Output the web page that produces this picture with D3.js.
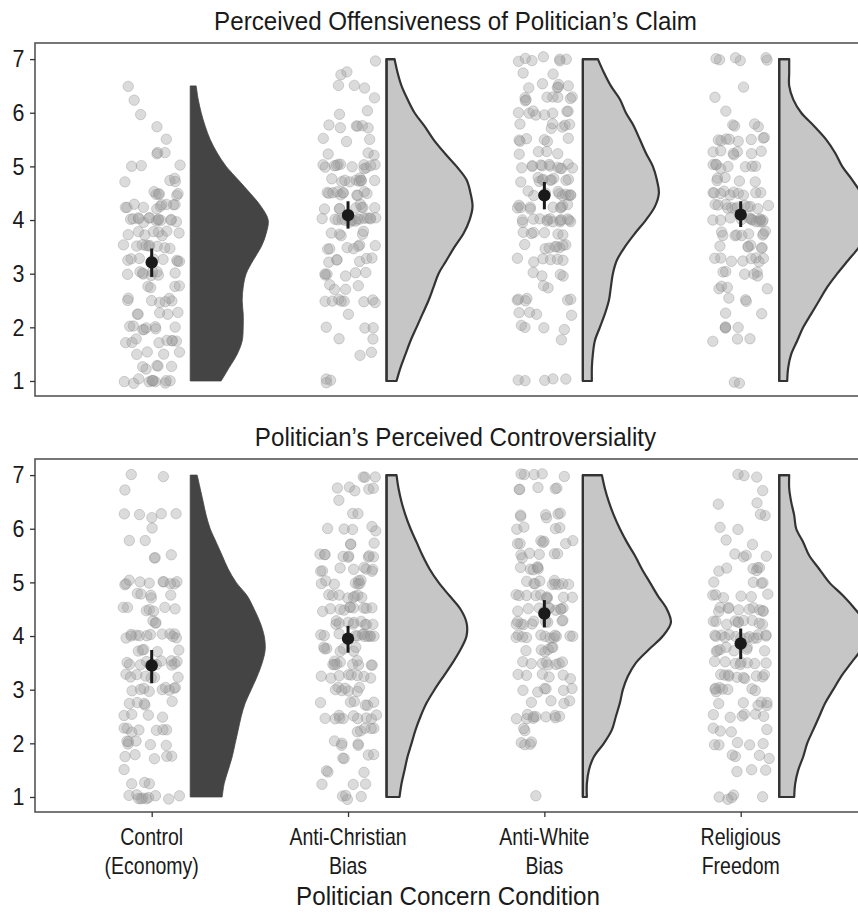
<!DOCTYPE html>
<html><head><meta charset="utf-8">
<script src="https://cdn.jsdelivr.net/npm/d3@7/dist/d3.min.js"></script>
<style>body{margin:0;background:#fff}svg{display:block}</style>
</head><body><svg id="c" width="858" height="912"></svg>
<script>
// ---------- DATA ----------
const categories = ["Control (Economy)", "Anti-Christian Bias", "Anti-White Bias", "Religious Freedom"];
const categoryLines = [["Control","(Economy)"],["Anti-Christian","Bias"],["Anti-White","Bias"],["Religious","Freedom"]];
const panelTitles = ["Perceived Offensiveness of Politician\u2019s Claim", "Politician\u2019s Perceived Controversiality"];
const xAxisTitle = "Politician Concern Condition";
const yTicks = [1,2,3,4,5,6,7];
const levels = [1,1.25,1.5,1.75,2,2.25,2.5,2.75,3,3.25,3.5,3.75,4,4.25,4.5,4.75,5,5.25,5.5,5.75,6,6.25,6.5,6.75,7];

// response counts at each scale level (1 -> 7), panel 1 (offensiveness)
const offCounts = [
  [11,5,4,8,8,5,7,4,9,8,9,8,14,10,6,4,3,3,1,1,1,1,1,0,0],
  [3,0,2,2,3,1,8,4,6,6,7,5,16,8,11,10,12,3,3,6,2,1,3,2,1],
  [5,0,0,1,4,4,6,2,4,6,8,6,14,10,10,10,12,4,6,6,8,8,6,2,7],
  [2,0,0,3,4,2,3,4,6,8,6,9,14,12,10,5,8,7,8,4,1,1,1,0,6]
];
// panel 2 (controversiality)
const conCounts = [
  [10,3,1,5,6,7,4,5,9,7,12,5,12,3,7,5,10,0,3,2,1,5,0,1,2],
  [4,3,3,4,5,5,10,6,7,8,10,7,12,10,10,8,8,8,9,3,5,2,1,5,3],
  [1,0,0,0,4,2,10,4,6,6,8,6,12,10,10,10,10,6,6,7,4,6,0,5,5],
  [5,0,3,4,5,4,6,6,8,10,8,8,14,10,10,6,4,6,4,2,2,2,2,1,3]
];
// group means and 95% CI
const offMean = [3.21,4.09,4.46,4.10], offLo = [2.94,3.84,4.20,3.87], offHi = [3.47,4.35,4.71,4.35];
const conMean = [3.45,3.95,4.42,3.86], conLo = [3.12,3.69,4.16,3.57], conHi = [3.74,4.19,4.67,4.14];

// kernel density estimates (relative), evaluated at the levels above
const offDensity = [
  [0.31,0.39,0.47,0.52,0.53,0.53,0.52,0.53,0.56,0.63,0.71,0.76,0.78,0.71,0.60,0.48,0.36,0.27,0.20,0.15,0.11,0.08,0.06],
  [0.10,0.14,0.19,0.24,0.30,0.36,0.42,0.47,0.52,0.60,0.68,0.77,0.83,0.86,0.84,0.80,0.70,0.58,0.47,0.38,0.28,0.21,0.15,0.11,0.08],
  [0.09,0.09,0.10,0.12,0.17,0.22,0.26,0.28,0.30,0.34,0.42,0.52,0.63,0.72,0.76,0.74,0.70,0.63,0.57,0.51,0.43,0.37,0.28,0.21,0.15],
  [0.08,0.09,0.12,0.18,0.24,0.32,0.40,0.48,0.58,0.69,0.80,0.88,0.92,0.90,0.82,0.73,0.63,0.56,0.47,0.35,0.22,0.14,0.10,0.10,0.10]
];
const conDensity = [
  [0.32,0.34,0.38,0.42,0.45,0.48,0.51,0.55,0.61,0.67,0.72,0.75,0.74,0.70,0.64,0.57,0.46,0.38,0.32,0.26,0.20,0.16,0.13,0.10,0.07],
  [0.13,0.15,0.18,0.21,0.25,0.29,0.34,0.40,0.48,0.57,0.66,0.74,0.80,0.80,0.74,0.63,0.52,0.43,0.36,0.30,0.24,0.19,0.15,0.12,0.10],
  [0.04,0.04,0.06,0.11,0.21,0.29,0.33,0.37,0.40,0.45,0.53,0.66,0.80,0.88,0.84,0.75,0.67,0.59,0.52,0.44,0.37,0.31,0.26,0.22,0.19],
  [0.15,0.16,0.19,0.24,0.28,0.34,0.40,0.46,0.54,0.62,0.72,0.82,0.88,0.86,0.76,0.64,0.50,0.40,0.30,0.24,0.17,0.15,0.12,0.10,0.10]
];
const violinFill = ["#444444","#c6c6c6","#c6c6c6","#c6c6c6"];

// ---------- LAYOUT ----------
const svg = d3.select("#c");
const font = "'Liberation Sans',Arial,sans-serif";
const ink = "#1a1a1a";
const frameLeft = 35, frameRight = 900;
const x = d3.scalePoint().domain(categories).range([151.7, 740.7]);
const densW = d3.scaleLinear().domain([0,1]).range([0,100]);
const panels = [
  {title: panelTitles[0], top: 43, bottom: 396, counts: offCounts, dens: offDensity, mean: offMean, lo: offLo, hi: offHi},
  {title: panelTitles[1], top: 459, bottom: 812, counts: conCounts, dens: conDensity, mean: conMean, lo: conLo, hi: conHi}
];

// condensed text: regular sans compressed horizontally
let sx = 0.82;
(function(){
  const t = svg.append("text").attr("font-family", font).attr("font-size", 26.5).text(panelTitles[0]);
  const w = t.node().getComputedTextLength();
  if (w > 0) sx = 483 / w;
  t.remove();
})();
function label(str, px, py, size, anchor, k){
  const g = svg.append("g").attr("transform", `translate(${px},${py}) scale(${sx*(k||1)},1)`);
  g.append("text").attr("text-anchor", anchor || "middle").attr("font-family", font)
    .attr("font-size", size).attr("fill", ink).text(str);
  return g;
}

// deterministic jitter for point placement (presentation only)
function jit(i, k){ const s = Math.sin(i*12.9898 + k*78.233)*43758.5453; return s - Math.floor(s); }

panels.forEach((p, pi) => {
  const y = d3.scaleLinear().domain([0.72, 7.3]).range([p.bottom, p.top]);
  const g = svg.append("g");

  label(p.title, 455.5, p.top - 13.5, 26.5, "middle");

  // violins
  categories.forEach((c, ci) => {
    const dens = p.dens[ci];
    const vals = levels.slice(0, dens.length).map((v, i) => ({v, d: dens[i]}));
    const x0 = x(c) + 38.5;
    const area = d3.area().curve(d3.curveCatmullRom.alpha(0.5))
      .y(d => y(d.v)).x0(x0).x1(d => x0 + densW(d.d));
    g.append("path").datum(vals).attr("d", area)
      .attr("fill", violinFill[ci])
      .attr("stroke", ci === 0 ? "#444444" : "#333333")
      .attr("stroke-width", ci === 0 ? 0.8 : 2.2)
      .attr("stroke-linejoin","round");
    if (ci > 0) {
      const top = vals[vals.length-1], bot = vals[0];
      g.append("path")
        .attr("d", `M${x0+densW(top.d)},${y(top.v)}L${x0},${y(top.v)}L${x0},${y(bot.v)}L${x0+densW(bot.d)},${y(bot.v)}`)
        .attr("fill","none").attr("stroke","#333").attr("stroke-width",2.2).attr("stroke-linejoin","round");
    }
  });

  // points
  categories.forEach((c, ci) => {
    const pts = [];
    p.counts[ci].forEach((n, li) => { for (let k = 0; k < n; k++) pts.push(levels[li]); });
    g.selectAll(null).data(pts).enter().append("circle")
      .attr("cx", (d, i) => x(c) + (jit(i + ci*311 + pi*997, 1) - 0.5) * 57)
      .attr("cy", (d, i) => y(d + (jit(i + ci*311 + pi*997, 2) - 0.5) * 0.09))
      .attr("r", 5.2)
      .attr("fill", "#9a9a9a").attr("fill-opacity", 0.36)
      .attr("stroke", "#8a8a8a").attr("stroke-opacity", 0.35).attr("stroke-width", 1);
  });

  // mean + CI
  categories.forEach((c, ci) => {
    g.append("line").attr("x1", x(c)).attr("x2", x(c))
      .attr("y1", y(p.lo[ci])).attr("y2", y(p.hi[ci]))
      .attr("stroke", ink).attr("stroke-width", 3);
    g.append("circle").attr("cx", x(c)).attr("cy", y(p.mean[ci])).attr("r", 6.2).attr("fill", ink);
  });

  // frame
  svg.append("rect").attr("x", frameLeft).attr("y", p.top).attr("width", frameRight - frameLeft)
    .attr("height", p.bottom - p.top).attr("fill","none").attr("stroke","#555").attr("stroke-width",1.6);

  // y axis ticks (labels drawn condensed)
  const ya = svg.append("g").attr("transform", `translate(${frameLeft},0)`)
    .call(d3.axisLeft(y).tickValues(yTicks).tickSize(5).tickFormat(""));
  ya.select(".domain").remove();
  ya.selectAll(".tick line").attr("stroke","#333").attr("stroke-width",1.3);
  yTicks.forEach(t => label(String(t), 24.5, y(t) + 8.3, 23.5, "end"));

  if (pi === 1) {
    const xa = svg.append("g").attr("transform", `translate(0,${p.bottom})`)
      .call(d3.axisBottom(x).tickSize(5).tickFormat(""));
    xa.select(".domain").remove();
    xa.selectAll(".tick line").attr("stroke","#333").attr("stroke-width",1.3);
    categories.forEach((c, ci) => {
      categoryLines[ci].forEach((ln, li) => label(ln, x(c), 845 + li * 28.5, 23, "middle", 0.93));
    });
    label(xAxisTitle, 448, 905, 25.5, "middle", 1.04);
  }
});
</script></body></html>
